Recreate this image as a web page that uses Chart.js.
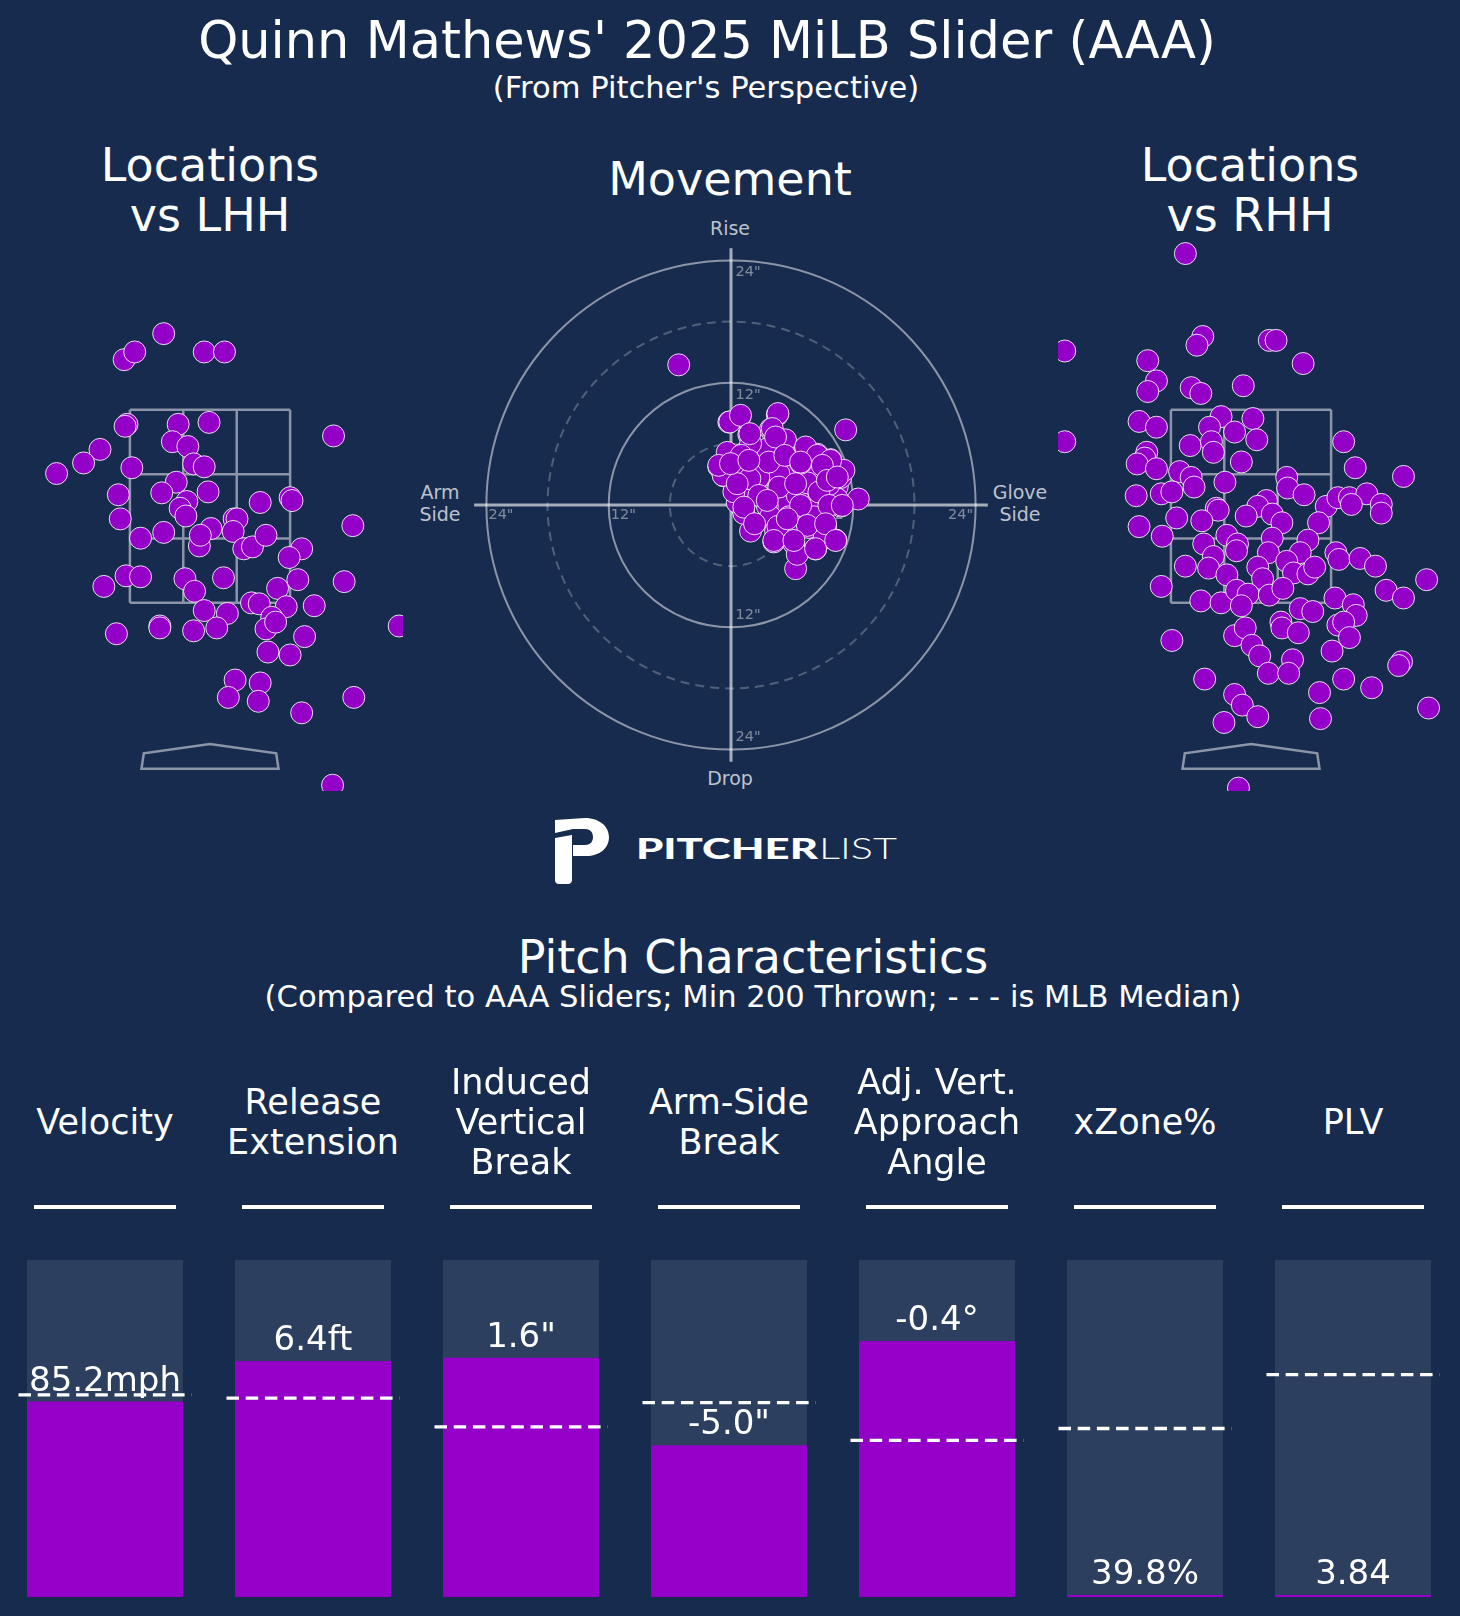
<!DOCTYPE html>
<html><head><meta charset="utf-8">
<script src="https://cdn.jsdelivr.net/npm/chart.js@4.4.1/dist/chart.umd.min.js"></script>
<style>
html,body{margin:0;padding:0;background:#172b4e;}
body{width:1460px;height:1616px;position:relative;overflow:hidden;font-family:"DejaVu Sans",sans-serif;color:#fff;}
.t{position:absolute;white-space:nowrap;transform:translateX(-50%);line-height:1;text-align:center;}
canvas{position:absolute;}
.lab{position:absolute;white-space:nowrap;transform:translateX(-50%);text-align:center;color:rgba(255,255,255,0.72);font-size:19px;}
</style></head><body>

<div class="t" style="left:707px;top:15px;font-size:51px;">Quinn Mathews' 2025 MiLB Slider (AAA)</div>
<div class="t" style="left:706px;top:73px;font-size:30.6px;">(From Pitcher's Perspective)</div>

<div class="t" style="left:210px;top:140px;font-size:46px;line-height:50px;">Locations<br>vs LHH</div>
<div class="t" style="left:730px;top:156px;font-size:46px;">Movement</div>
<div class="t" style="left:1250px;top:140px;font-size:46px;line-height:50px;">Locations<br>vs RHH</div>

<div class="lab" style="left:730px;top:219px;line-height:1;">Rise</div>
<div class="lab" style="left:730px;top:769px;line-height:1;">Drop</div>
<div class="lab" style="left:440px;top:482px;line-height:21.5px;">Arm<br>Side</div>
<div class="lab" style="left:1020px;top:482px;line-height:21.5px;">Glove<br>Side</div>

<canvas id="lhh" width="386" height="550" style="left:17px;top:241px;"></canvas>
<canvas id="mov" width="530" height="530" style="left:466px;top:240px;"></canvas>
<canvas id="rhh" width="386" height="550" style="left:1058px;top:241px;"></canvas>

<svg style="position:absolute;left:540px;top:800px;" width="380" height="90" viewBox="0 0 380 90">
  <path fill="#fff" d="M15,20 L45,18 C60,18 69,27 69,37 C69,48 60,56 46,56 L33,56 L33,45 L45,45 C50,45 53,42 53,37 C53,32 50,29 45,29 L33,29 L15,33 Z"/>
  <path fill="#fff" d="M15,38 L32,35 L32,80 C32,82.5 30,84 28,84 L19,84 C16.5,84 15,82.5 15,80 Z"/>
  <text x="96" y="59" font-family="Lato" font-weight="900" font-size="29" fill="#fff" textLength="182" lengthAdjust="spacingAndGlyphs">PITCHER</text>
  <text x="279" y="59" font-family="Lato" font-weight="300" font-size="29" fill="#fff" textLength="78" lengthAdjust="spacingAndGlyphs">LIST</text>
</svg>

<div class="t" style="left:753px;top:934px;font-size:46px;">Pitch Characteristics</div>
<div class="t" style="left:753px;top:982px;font-size:30.6px;">(Compared to AAA Sliders; Min 200 Thrown; - - - is MLB Median)</div>

<canvas id="bars" width="1460" height="436" style="left:0px;top:1180px;"></canvas>
<div id="heads"></div>

<script>
// ---------------- DATA ----------------
// Locations vs LHH (plate_x ft, plate_z ft)
const lhhX = [-0.89,-0.78,-0.48,-0.06,0.15,-0.86,-0.88,-0.33,-0.01,1.28,
  -1.14,-1.31,-1.59,-0.39,-0.23,-0.17,-0.06,-0.81,-0.35,-0.50,
  -0.02,-0.95,-0.24,-0.31,-0.25,0.52,0.83,0.85,1.48,-0.93,
  -0.72,-0.48,0.01,0.25,0.28,0.24,-0.11,-0.10,0.35,0.44,
  0.58,0.95,0.82,-0.87,-0.72,-1.10,-0.26,0.14,-0.16,0.70,
  0.91,1.39,0.43,0.51,0.79,1.08,-0.06,0.18,0.64,0.58,
  0.68,-0.97,-0.52,-0.52,-0.17,0.07,0.98,0.60,0.83,1.96,
  0.26,0.52,0.19,0.50,1.49,0.95,1.27];
const lhhZ = [4.02,4.10,4.29,4.10,4.10,3.35,3.33,3.35,3.37,3.23,
  3.09,2.95,2.84,3.17,3.12,2.94,2.91,2.90,2.75,2.64,
  2.65,2.62,2.55,2.48,2.40,2.54,2.59,2.56,2.30,2.37,
  2.17,2.23,2.27,2.37,2.37,2.24,2.09,2.20,2.06,2.08,
  2.20,2.06,1.97,1.78,1.77,1.67,1.75,1.76,1.62,1.65,
  1.74,1.72,1.50,1.49,1.46,1.47,1.42,1.39,1.35,1.23,
  1.30,1.18,1.26,1.24,1.21,1.24,1.15,0.99,0.96,1.26,
  0.70,0.67,0.52,0.48,0.52,0.36,-0.39];

// Locations vs RHH
const rhhX = [-0.68,-1.93,-1.93,-0.50,-0.56,0.19,0.26,0.54,-1.07,-0.98,
  -1.07,-0.62,-0.52,-0.08,-1.16,-0.98,-0.31,-0.43,-0.17,0.02,
  0.06,-0.63,-0.41,-0.39,-0.10,0.96,1.08,1.58,-1.08,-1.10,
  -1.18,-0.98,-0.74,-0.62,-0.59,-0.27,0.37,0.38,0.55,-1.19,
  -0.93,-0.82,0.78,0.90,1.02,1.20,1.35,1.35,1.04,-0.36,
  -0.34,0.16,0.07,-0.05,0.22,0.32,0.70,-1.16,-0.77,-0.51,
  -0.92,-0.25,-0.14,-0.49,0.22,0.59,-0.15,-0.39,0.18,0.51,
  0.88,0.91,1.13,1.29,1.82,-0.68,-0.44,-0.25,0.07,0.37,
  0.44,0.59,0.66,0.12,-0.93,1.40,1.58,-0.52,-0.31,-0.15,
  -0.03,-0.10,0.19,0.33,0.87,1.06,1.09,0.51,0.64,-0.82,
  -0.17,-0.06,0.01,0.31,0.32,0.49,0.90,0.96,1.02,0.84,
  0.09,0.43,0.18,0.39,1.56,1.53,-0.48,0.96,1.25,-0.17,
  -0.09,0.07,-0.28,0.71,0.72,1.84,-0.13];
const rhhZ = [5.12,4.11,3.17,4.26,4.17,4.22,4.22,3.98,4.01,3.80,
  3.69,3.73,3.67,3.75,3.38,3.32,3.43,3.32,3.27,3.41,
  3.19,3.13,3.17,3.06,2.96,3.17,2.90,2.81,3.06,3.00,
  2.94,2.89,2.86,2.80,2.70,2.75,2.80,2.69,2.62,2.61,
  2.63,2.65,2.50,2.59,2.59,2.63,2.52,2.43,2.52,2.48,
  2.46,2.56,2.50,2.40,2.42,2.33,2.33,2.29,2.38,2.35,
  2.19,2.20,2.11,2.11,2.17,2.15,2.04,1.98,2.02,2.02,
  2.02,1.95,1.96,1.88,1.74,1.88,1.86,1.79,1.87,1.93,
  1.81,1.80,1.87,1.75,1.67,1.63,1.55,1.52,1.50,1.63,
  1.59,1.47,1.58,1.65,1.55,1.48,1.37,1.44,1.41,1.11,
  1.16,1.24,1.06,1.30,1.24,1.19,1.27,1.30,1.14,1.00,
  0.95,0.91,0.77,0.77,0.89,0.85,0.71,0.71,0.62,0.55,
  0.44,0.32,0.26,0.57,0.30,0.41,-0.42];

// Movement (inches): horizontal break (glove side +), induced vertical break
const movHB = [-5.13,11.25,12.49,6.34,4.54,0.87,-0.21,3.88,1.75,4.2,
  1.1,5.19,7.32,8.47,9.77,-1.2,-0.71,2.57,3.71,8.96,
  0.77,3.06,4.7,6.17,8.62,10.43,2.73,6.99,9.61,10.76,
  0.93,5.03,2.24,4.54,6.34,7.64,9.28,1.92,4.2,6.17,
  8.3,10.27,6.5,0.61,8.13,6.17,1.59,3.56,1.92,5.35,
  9.77,10.76,7.81,8.62,3.56,3.88,8.13,5.84,9.12,2.24,
  6.5,7.49,4.7,0.28,1.26,5.68,4.37,10.43,6.83,11.08,
  -0.37,9.61,
  -0.12,0.93,4.6,4.05,1.85,4.37,1.0,-0.77,-1.2,2.73,
  3.71,5.28,7.32,8.47,9.77,8.96,6.83,1.85,4.7,6.34,
  8.62,9.45,10.43,2.73,0.61,1.26,2.31,4.6,6.83,9.61,
  10.92,7.49,9.28,4.2,6.17,8.3,10.27,5.52,3.56,-0.05,
  1.75];
const movIVB = [13.75,7.37,0.59,-6.25,8.84,8.66,8.13,7.43,6.91,6.73,
  4.98,4.98,5.5,4.98,4.45,3.75,2.87,4.1,4.27,3.75,
  2.52,2.87,1.82,1.99,1.47,1.82,0.94,0.25,0.07,-0.11,
  -0.11,-0.11,-1.87,-2.04,-1.69,-2.21,-2.04,-2.56,-3.62,-3.79,
  -4.32,-3.44,-4.84,0.25,3.05,3.4,3.4,5.5,6.03,6.39,
  3.4,2.7,0.25,-0.11,-0.11,-1.16,-1.16,-2.92,-3.27,1.3,
  0.94,2.17,3.05,1.3,-0.82,-1.16,-2.56,0.59,4.1,3.4,
  5.16,1.99,
  8.15,8.8,8.97,7.5,7.0,6.67,4.87,2.91,3.89,2.74,
  4.21,4.87,5.69,4.87,4.38,3.89,4.21,2.58,1.76,2.09,
  1.27,2.42,2.74,0.94,2.09,-0.21,-1.84,-2.1,-0.04,-0.04,
  -0.04,-2.0,-1.84,-3.48,-3.48,-4.29,-3.48,-1.35,0.45,4.06,
  4.38];

// Movement rings & tick labels (inches)
const ringRadii = [6, 12, 18, 24];
const ringDashed = [true, false, true, false];
const ringLabels = [12, 24];

// Strike zone & plate (ft)
const zoneX = [-0.83, -0.277, 0.277, 0.83];
const zoneZ = [1.5, 2.167, 2.833, 3.5];
const plateX = [-0.71, 0.71, 0.686, 0, -0.686];
const plateZ = [-0.22, -0.22, -0.059, 0.038, -0.059];

// Pitch characteristics
const metricHeaders = [["Velocity"],["Release","Extension"],["Induced","Vertical","Break"],["Arm-Side","Break"],["Adj. Vert.","Approach","Angle"],["xZone%"],["PLV"]];
const percentiles = [58, 70, 71, 45, 76, 0.6, 0.6];
const medianPct = [60, 59, 50.5, 57.7, 46.5, 50, 66];
const valueLabels = ['85.2mph','6.4ft','1.6"','-5.0"','-0.4°','39.8%','3.84'];
const trackPct = [100,100,100,100,100,100,100];

// ---------------- STYLE ----------------
const PURPLE = '#9400c8';
const TRACK = '#2d3f5f';
Chart.defaults.font.family = '"DejaVu Sans", sans-serif';

function scatterOpts(xmin,xmax,ymin,ymax){
  return {
    responsive:false, animation:false, devicePixelRatio:1, events:[],
    layout:{padding:0, autoPadding:false},
    plugins:{legend:{display:false}, tooltip:{enabled:false}},
    scales:{
      x:{type:'linear', min:xmin, max:xmax, display:false},
      y:{type:'linear', min:ymin, max:ymax, display:false}
    }
  };
}
function dotSet(xs, ys){
  return {
    data: xs.map((v,i)=>({x:v, y:ys[i]})),
    pointRadius: 11, pointHoverRadius: 11,
    pointBackgroundColor: PURPLE,
    pointBorderColor: 'rgba(255,255,255,0.85)',
    pointBorderWidth: 1,
    showLine:false
  };
}

const zonePlugin = {
  id:'zone',
  beforeDatasetsDraw(chart){
    const {ctx, scales:{x,y}} = chart;
    ctx.save();
    ctx.strokeStyle = 'rgba(255,255,255,0.5)';
    ctx.lineWidth = 2.5;
    ctx.beginPath();
    zoneX.forEach(v=>{ ctx.moveTo(x.getPixelForValue(v), y.getPixelForValue(zoneZ[0])); ctx.lineTo(x.getPixelForValue(v), y.getPixelForValue(zoneZ[3])); });
    zoneZ.forEach(v=>{ ctx.moveTo(x.getPixelForValue(zoneX[0]), y.getPixelForValue(v)); ctx.lineTo(x.getPixelForValue(zoneX[3]), y.getPixelForValue(v)); });
    ctx.stroke();
    ctx.beginPath();
    plateX.forEach((v,i)=>{ const px=x.getPixelForValue(v), py=y.getPixelForValue(plateZ[i]); if(i===0) ctx.moveTo(px,py); else ctx.lineTo(px,py); });
    ctx.closePath();
    ctx.stroke();
    ctx.restore();
  }
};

const AXIS_REACH = 25.2;
const movePlugin = {
  id:'moveGrid',
  beforeDatasetsDraw(chart){
    const {ctx, scales:{x,y}} = chart;
    const cx = x.getPixelForValue(0), cy = y.getPixelForValue(0);
    const kx = x.getPixelForValue(1)-cx, ky = cy-y.getPixelForValue(1);
    ctx.save();
    ringRadii.forEach((r,i)=>{
      ctx.beginPath();
      if(ringDashed[i]){ ctx.setLineDash([9,6]); ctx.strokeStyle='rgba(255,255,255,0.25)'; }
      else { ctx.setLineDash([]); ctx.strokeStyle='rgba(255,255,255,0.5)'; }
      ctx.lineWidth = 2;
      ctx.ellipse(cx, cy, r*kx, r*ky, 0, 0, Math.PI*2);
      ctx.stroke();
    });
    ctx.setLineDash([]);
    ctx.strokeStyle='rgba(255,255,255,0.62)';
    ctx.lineWidth=3;
    ctx.beginPath();
    ctx.moveTo(x.getPixelForValue(-AXIS_REACH), cy); ctx.lineTo(x.getPixelForValue(AXIS_REACH), cy);
    ctx.moveTo(cx, y.getPixelForValue(AXIS_REACH)); ctx.lineTo(cx, y.getPixelForValue(-AXIS_REACH));
    ctx.stroke();
    ctx.font = '14.5px "DejaVu Sans"';
    ctx.fillStyle = 'rgba(255,255,255,0.45)';
    ctx.textBaseline = 'middle';
    ringLabels.forEach(r=>{
      const t = r + '"';
      ctx.textAlign='left';
      ctx.fillText(t, x.getPixelForValue(-r+0.2), y.getPixelForValue(-1));
      ctx.fillText(t, x.getPixelForValue(0.45), y.getPixelForValue(r-1.2));
      ctx.fillText(t, x.getPixelForValue(0.45), y.getPixelForValue(-(r-1.2)));
      ctx.textAlign='right';
      ctx.fillText(t, x.getPixelForValue(r-0.25), y.getPixelForValue(-1));
    });
    ctx.restore();
  }
};

new Chart(document.getElementById('lhh'), {type:'scatter', data:{datasets:[dotSet(lhhX,lhhZ)]}, options:scatterOpts(-2,2,-0.45,5.25), plugins:[zonePlugin]});
new Chart(document.getElementById('rhh'), {type:'scatter', data:{datasets:[dotSet(rhhX,rhhZ)]}, options:scatterOpts(-2,2,-0.45,5.25), plugins:[zonePlugin]});
new Chart(document.getElementById('mov'), {type:'scatter', data:{datasets:[dotSet(movHB,movIVB)]}, options:scatterOpts(-26,26,-26,26), plugins:[movePlugin]});

const barPlugin = {
  id:'barDeco',
  afterDatasetsDraw(chart){
    const {ctx, scales:{x,y}} = chart;
    ctx.save();
    // underlines
    ctx.strokeStyle='#fff'; ctx.lineWidth=4;
    metricHeaders.forEach((h,i)=>{
      const cx = x.getPixelForValue(i);
      ctx.beginPath(); ctx.moveTo(cx-71, 27); ctx.lineTo(cx+71, 27); ctx.stroke();
    });
    // value labels
    ctx.fillStyle='#fff';
    ctx.font='34px "DejaVu Sans"';
    ctx.textAlign='center'; ctx.textBaseline='alphabetic';
    percentiles.forEach((p,i)=>{
      ctx.fillText(valueLabels[i], x.getPixelForValue(i), y.getPixelForValue(p)-11);
    });
    // median dashes
    ctx.setLineDash([12.5,6.7]); ctx.lineWidth=3.3; ctx.strokeStyle='#fff';
    medianPct.forEach((m,i)=>{
      const cx = x.getPixelForValue(i), py = y.getPixelForValue(m);
      ctx.beginPath(); ctx.moveTo(cx-86.5, py); ctx.lineTo(cx+86.5, py); ctx.stroke();
    });
    ctx.restore();
  }
};

const barChart = new Chart(document.getElementById('bars'), {
  type:'bar',
  data:{
    labels: metricHeaders.map(h=>h.join(' ')),
    datasets:[
      {data:percentiles, backgroundColor:PURPLE, order:1, grouped:false, barPercentage:0.75, categoryPercentage:1, borderWidth:0},
      {data:trackPct, backgroundColor:TRACK, order:2, grouped:false, barPercentage:0.75, categoryPercentage:1, borderWidth:0}
    ]
  },
  options:{
    responsive:false, animation:false, devicePixelRatio:1, events:[],
    layout:{padding:{top:80,bottom:19,left:1,right:3}, autoPadding:false},
    plugins:{legend:{display:false}, tooltip:{enabled:false}},
    scales:{
      x:{display:false},
      y:{display:false, min:0, max:100}
    }
  },
  plugins:[barPlugin]
});

// headers above each bar, positioned from the bar chart's category scale
const heads = document.getElementById('heads');
metricHeaders.forEach((lines,i)=>{
  const cx = barChart.scales.x.getPixelForValue(i);
  const firstBase = 1134 - (lines.length-1)/2*40;
  const d = document.createElement('div');
  d.className='t';
  d.style.left = cx+'px';
  d.style.top = (firstBase-32.1)+'px';
  d.style.fontSize='35px';
  d.style.lineHeight='40px';
  d.innerHTML = lines.join('<br>');
  heads.appendChild(d);
});
</script>
</body></html>
